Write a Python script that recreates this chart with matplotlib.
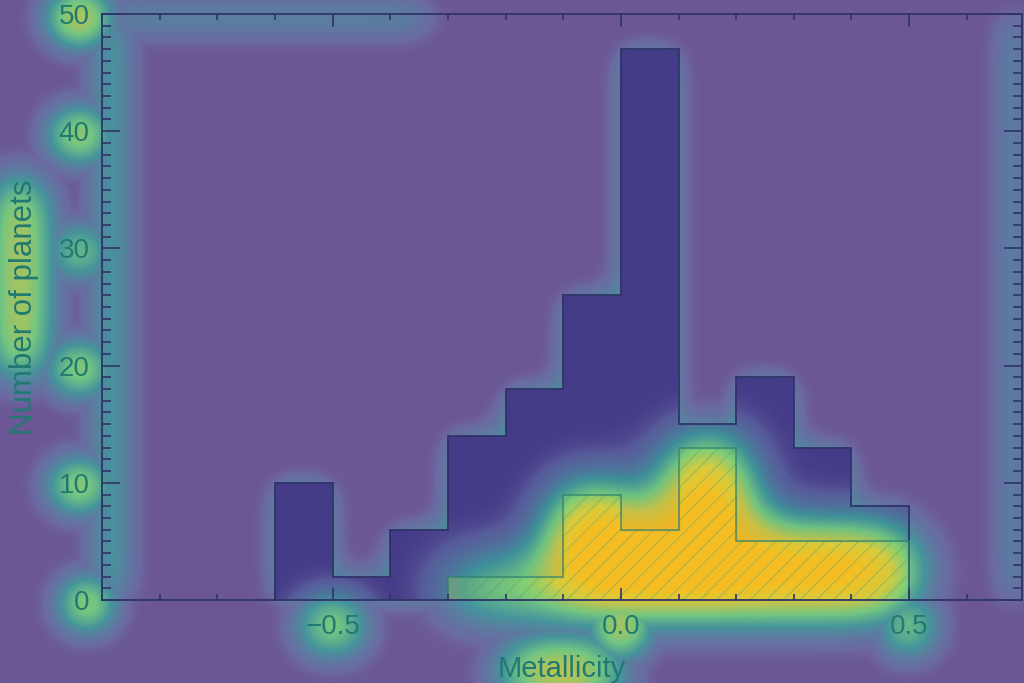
import numpy as np
import matplotlib
matplotlib.use("Agg")
import matplotlib.pyplot as plt
from matplotlib.ticker import MultipleLocator
from matplotlib.colors import LinearSegmentedColormap

# histogram data (counts per 0.1 dex bin)
bin_edges = [-0.6, -0.5, -0.4, -0.3, -0.2, -0.1, 0.0, 0.1, 0.2, 0.3, 0.4, 0.5]
all_planets = [10, 2, 6, 14, 18, 26, 47, 15, 19, 13, 8]
subset = [0, 0, 0, 2, 2, 9, 6, 13, 5, 5, 5]

plt.rcParams['font.family'] = ['Liberation Sans', 'DejaVu Sans']

bg = '#6b5696'
bar_col = '#433a88'
line_col = '#2e3468'
text_col = '#217a72'

fig = plt.figure(figsize=(10.24, 6.83), dpi=100, facecolor=bg)
pos = [0.0996, 0.1215, 0.898, 0.858]

# bottom layer: filled bars
ax = fig.add_axes(pos, facecolor=bg)
ax.stairs(all_planets, bin_edges, fill=True, facecolor=bar_col, edgecolor='none')
ax.stairs(subset, bin_edges, fill=True, facecolor='#d9a030', edgecolor='none')
ax.set_xlim(-0.9, 0.695)
ax.set_ylim(0, 50)
ax.axis('off')

# top layer: outlines, ticks and text
ax2 = fig.add_axes(pos, facecolor='none')
ax2.stairs(all_planets, bin_edges, color=line_col, lw=1.3)
ax2.stairs(subset, bin_edges, fill=True, facecolor='none', edgecolor='#3f9a78',
           hatch='//', lw=1.0, alpha=0.3)
ax2.stairs(subset, bin_edges, color='#2f7f70', lw=1.2, alpha=0.7)
ax2.set_xlim(-0.9, 0.695)
ax2.set_ylim(0, 50)
ax2.xaxis.set_major_locator(MultipleLocator(0.5))
ax2.xaxis.set_minor_locator(MultipleLocator(0.1))
ax2.yaxis.set_major_locator(MultipleLocator(10))
ax2.yaxis.set_minor_locator(MultipleLocator(1))
ax2.tick_params(which='both', direction='in', top=True, right=True,
                color=line_col, labelcolor=text_col, labelsize=20, pad=9)
ax2.tick_params(axis='x', which='major', length=9, width=1.2, pad=10)
ax2.tick_params(axis='x', which='minor', length=4, width=1.2)
ax2.tick_params(axis='y', which='major', length=13, width=1.2)
ax2.tick_params(axis='y', which='minor', length=6.5, width=1.2)
for s in ax2.spines.values():
    s.set_color(line_col)
    s.set_linewidth(1.3)
ax2.set_xlabel('Metallicity', fontsize=21, color=text_col, labelpad=11)
ax2.set_ylabel('Number of planets', fontsize=22.5, color=text_col, labelpad=14)

# saliency style glow, built from the drawn elements
fig.canvas.draw()
rend = fig.canvas.get_renderer()
W, H = fig.canvas.get_width_height()


def blur(a, s):
    p = int(3 * s)
    b = np.pad(a, p)
    ky = np.exp(-0.5 * (np.fft.fftfreq(b.shape[0]) * 2 * np.pi * s) ** 2)
    kx = np.exp(-0.5 * (np.fft.fftfreq(b.shape[1]) * 2 * np.pi * s) ** 2)
    out = np.real(np.fft.ifft2(np.fft.fft2(b) * np.outer(ky, kx)))
    return out[p:-p, p:-p]


def box(x0, y0, x1, y1):
    m = np.zeros((H, W))
    x0, x1 = int(max(x0, 0)), int(min(x1, W))
    y0, y1 = int(max(y0, 0)), int(min(y1, H))
    if x1 > x0 and y1 > y0:
        m[y0:y1, x0:x1] = 1.0
    return m


def spot(m, s, w):
    # blurred blob scaled so that its peak is w
    g = blur(m, s)
    return w * g / max(g.max(), 1e-9)


def bar_mask(counts):
    m = np.zeros((H, W))
    for i, c in enumerate(counts):
        if c <= 0:
            continue
        (x0, y0), (x1, y1) = ax.transData.transform([(bin_edges[i], 0), (bin_edges[i + 1], c)])
        m = np.maximum(m, box(x0, y0, x1, y1))
    return m

sub_m = bar_mask(subset)
all_m = bar_mask(all_planets)
axbb = ax.get_window_extent(rend)

heat = np.clip(1.6 * blur(sub_m, 32), 0, 1)

ylab_w = {'0': 0.55, '10': 0.56, '20': 0.55, '30': 0.45, '40': 0.58, '50': 0.66}
for t in ax2.get_yticklabels():
    bb = t.get_window_extent(rend)
    cy = 0.5 * (bb.y0 + bb.y1)
    if t.get_text() and axbb.y0 - 15 <= cy <= axbb.y1 + 15:
        m = box(bb.x0, bb.y0, bb.x1 + 12, bb.y1)
        heat = np.maximum(heat, spot(m, 22, ylab_w.get(t.get_text(), 0.45)))
xlab_w = {'\u22120.5': 0.52, '0.0': 0.64, '0.5': 0.46}
for t in ax2.get_xticklabels():
    bb = t.get_window_extent(rend)
    cx = 0.5 * (bb.x0 + bb.x1)
    if t.get_text() and axbb.x0 <= cx <= axbb.x1:
        m = box(bb.x0, bb.y0 - 8, bb.x1, bb.y1 + 10)
        heat = np.maximum(heat, spot(m, 22, xlab_w.get(t.get_text(), 0.45)))
bb = ax2.xaxis.label.get_window_extent(rend)
heat = np.maximum(heat, spot(box(bb.x0 + 10, bb.y0 - 40, bb.x1 - 10, bb.y1 - 5), 28, 0.7))
bb = ax2.yaxis.label.get_window_extent(rend)
heat = np.maximum(heat, spot(box(bb.x0 - 30, bb.y0 + 60, bb.x1, bb.y1), 24, 0.64))

heat = np.maximum(heat, spot(box(axbb.x0 - 5, axbb.y0, axbb.x0 + 25, axbb.y1), 18, 0.3))
heat = np.maximum(heat, spot(box(axbb.x0, axbb.y1 - 15, axbb.x0 + 330, axbb.y1 + 10), 18, 0.22))
heat = np.maximum(heat, spot(box(axbb.x1 - 20, axbb.y0, axbb.x1 + 10, axbb.y1), 16, 0.2))
halo = blur(all_m, 16) * (1 - all_m)
heat = np.maximum(heat, 0.4 * halo)
heat = np.clip(heat, 0, 1)

glow = LinearSegmentedColormap.from_list('glow', [
    (0.00, (0.42, 0.34, 0.59, 0.0)),
    (0.10, (0.42, 0.50, 0.68, 0.5)),
    (0.32, (0.24, 0.64, 0.62, 0.82)),
    (0.52, (0.46, 0.83, 0.50, 0.9)),
    (0.75, (0.84, 0.82, 0.25, 0.9)),
    (1.00, (0.97, 0.76, 0.13, 0.93)),
])

ov = fig.add_axes([0, 0, 1, 1], facecolor='none')
ov.imshow(heat, cmap=glow, vmin=0, vmax=1, origin='lower',
          extent=[0, W, 0, H], interpolation='bilinear')
ov.set_xlim(0, W)
ov.set_ylim(0, H)
ov.axis('off')

ax.set_zorder(1)
ov.set_zorder(2)
ax2.set_zorder(3)

fig.savefig('out.png', dpi=100, facecolor=bg)
